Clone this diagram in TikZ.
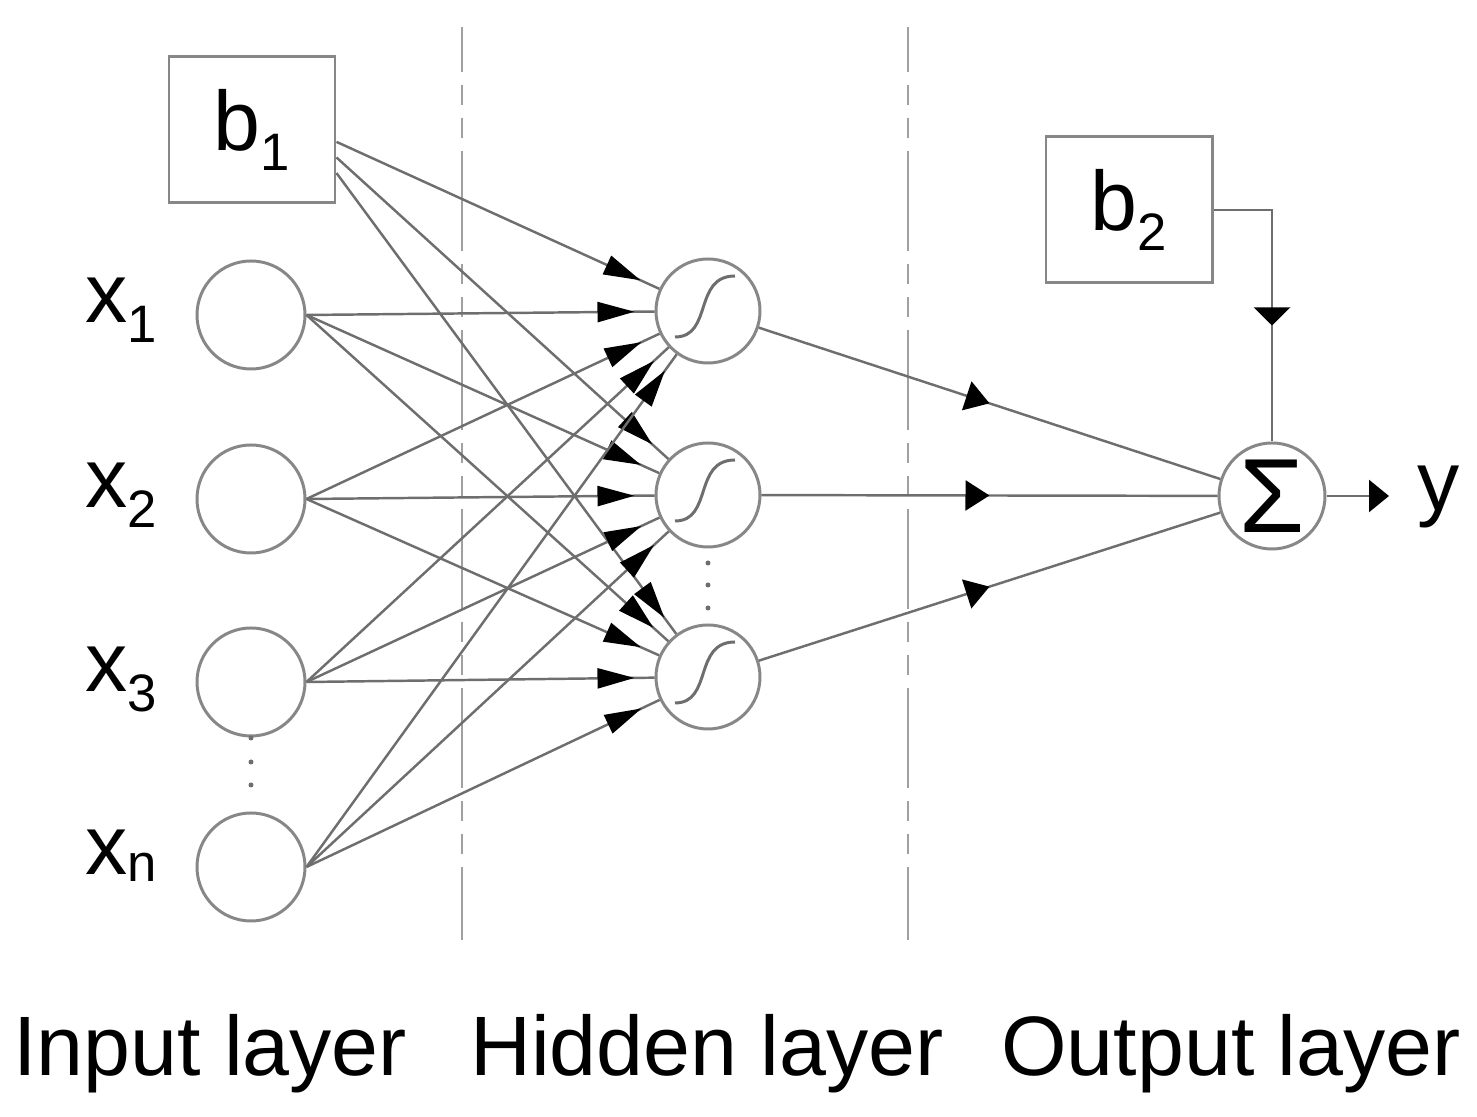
\documentclass[tikz,border=0pt]{standalone}
\usepackage{fontspec}
\setmainfont{Liberation Sans}
\usetikzlibrary{arrows.meta,decorations.markings}
\definecolor{linegray}{RGB}{110,110,110}
\definecolor{circgray}{RGB}{135,135,135}
\definecolor{dashgray}{RGB}{160,160,160}
\newcommand\lowsub[2][0.2cm]{\raisebox{-#1}{\fontsize{15}{15}\selectfont #2}}

\begin{document}
\begin{tikzpicture}[
  neuron/.style={circle, draw=circgray, line width=0.85pt, inner sep=0pt},
  biasbox/.style={rectangle, draw=circgray, line width=0.85pt, minimum width=1.66cm, minimum height=1.46cm, inner sep=0pt, font=\fontsize{24}{24}\selectfont},
  lbl/.style={anchor=base west, inner sep=0pt, font=\fontsize{24}{24}\selectfont},
  layername/.style={anchor=base, inner sep=0pt, font=\fontsize{24}{24}\selectfont},
  wire/.style={draw=linegray, line width=0.7pt},
  sigcurve/.style={draw=linegray, line width=0.85pt},
  sepline/.style={draw=dashgray, line width=0.85pt, dash pattern=on 1cm off 0.13cm on 0.2cm off 0.13cm on 0.2cm off 0.13cm, dash phase=0.55cm},
  inarrow/.style={wire, postaction={decorate}, decoration={markings, mark=at position -0.2cm with {\arrow{Triangle[length=0.37cm, width=0.2cm, color=black]}}}},
  midarrow/.style={wire, postaction={decorate}, decoration={markings, mark=at position #1 with {\arrow{Triangle[length=0.24cm, width=0.3cm, color=black]}}}},
  biasarrow/.style={wire, postaction={decorate}, decoration={markings, mark=at position #1 with {\arrow{Triangle[length=0.18cm, width=0.36cm, color=black]}}}},
  outarrow/.style={wire, -{Triangle[length=0.2cm, width=0.32cm, color=black]}}
]
\useasboundingbox (0,0) rectangle (14.77,11.17);

% layer borders
\draw[sepline] (4.62,10.90) -- (4.62,1.77);
\draw[sepline] (9.08,10.90) -- (9.08,1.77);

\node[biasbox] (b1) at (2.52,9.87) {b\lowsub{1}};
\node[biasbox] (b2) at (11.29,9.07) {b\lowsub{2}};

\node[neuron, minimum size=1.08cm] (x1) at (2.51,8.02) {};
\node[neuron, minimum size=1.08cm] (x2) at (2.51,6.18) {};
\node[neuron, minimum size=1.08cm] (x3) at (2.51,4.35) {};
\node[neuron, minimum size=1.08cm] (xn) at (2.51,2.50) {};
\node[lbl] (x1name) at (0.85,7.94) {x\lowsub{1}};
\node[lbl] (x2name) at (0.85,6.09) {x\lowsub{2}};
\node[lbl] (x3name) at (0.85,4.25) {x\lowsub{3}};
\node[lbl] (xnname) at (0.85,2.42) {x\lowsub[0.07cm]{n}};
\fill[linegray] (2.51,3.79) circle (0.025);
\fill[linegray] (2.51,3.55) circle (0.025);
\fill[linegray] (2.51,3.32) circle (0.025);

\node[neuron, minimum size=1.04cm] (h1) at (7.08,8.06) {};
\node[neuron, minimum size=1.04cm] (h2) at (7.08,6.22) {};
\node[neuron, minimum size=1.04cm] (h3) at (7.08,4.40) {};
\draw[sigcurve, shift={(h1)}] (-0.33,-0.26) .. controls (0.05,-0.26) and (-0.15,0.35) .. (0.27,0.35);
\draw[sigcurve, shift={(h2)}] (-0.33,-0.26) .. controls (0.05,-0.26) and (-0.15,0.35) .. (0.27,0.35);
\draw[sigcurve, shift={(h3)}] (-0.33,-0.26) .. controls (0.05,-0.26) and (-0.15,0.35) .. (0.27,0.35);
\fill[linegray] (7.08,5.54) circle (0.025);
\fill[linegray] (7.08,5.32) circle (0.025);
\fill[linegray] (7.08,5.09) circle (0.025);

\node[neuron, minimum size=1.06cm, font=\fontsize{30}{30}\selectfont] (sum) at (12.72,6.21) {Σ};
\coordinate (yout) at (13.89,6.21);
\node[lbl] (yname) at (14.17,6.06) {y};

% bias 1 to hidden
\draw[inarrow] (b1.-8) -- (h1);
\draw[inarrow] (b1.-18) -- (h2);
\draw[inarrow] (b1.-27) -- (h3);

% inputs to hidden
\draw[inarrow] (x1.east) -- (h1);
\draw[inarrow] (x1.east) -- (h2);
\draw[inarrow] (x1.east) -- (h3);
\draw[inarrow] (x2.east) -- (h1);
\draw[inarrow] (x2.east) -- (h2);
\draw[inarrow] (x2.east) -- (h3);
\draw[inarrow] (x3.east) -- (h1);
\draw[inarrow] (x3.east) -- (h2);
\draw[inarrow] (x3.east) -- (h3);
\draw[inarrow] (xn.east) -- (h1);
\draw[inarrow] (xn.east) -- (h2);
\draw[inarrow] (xn.east) -- (h3);

% hidden to output
\draw[midarrow=0.5] (h1) -- (sum);
\draw[midarrow=0.5] (h2) -- (sum);
\draw[midarrow=0.5] (h3) -- (sum);
\draw[biasarrow=0.6] (b2.east) -| (sum.north);
\draw[outarrow] (sum) -- (yout);

\node[layername] (inname) at (2.10,0.41) {Input layer};
\node[layername] (hidname) at (7.07,0.41) {Hidden layer};
\node[layername] (outname) at (12.31,0.41) {Output layer};
\end{tikzpicture}
\end{document}
